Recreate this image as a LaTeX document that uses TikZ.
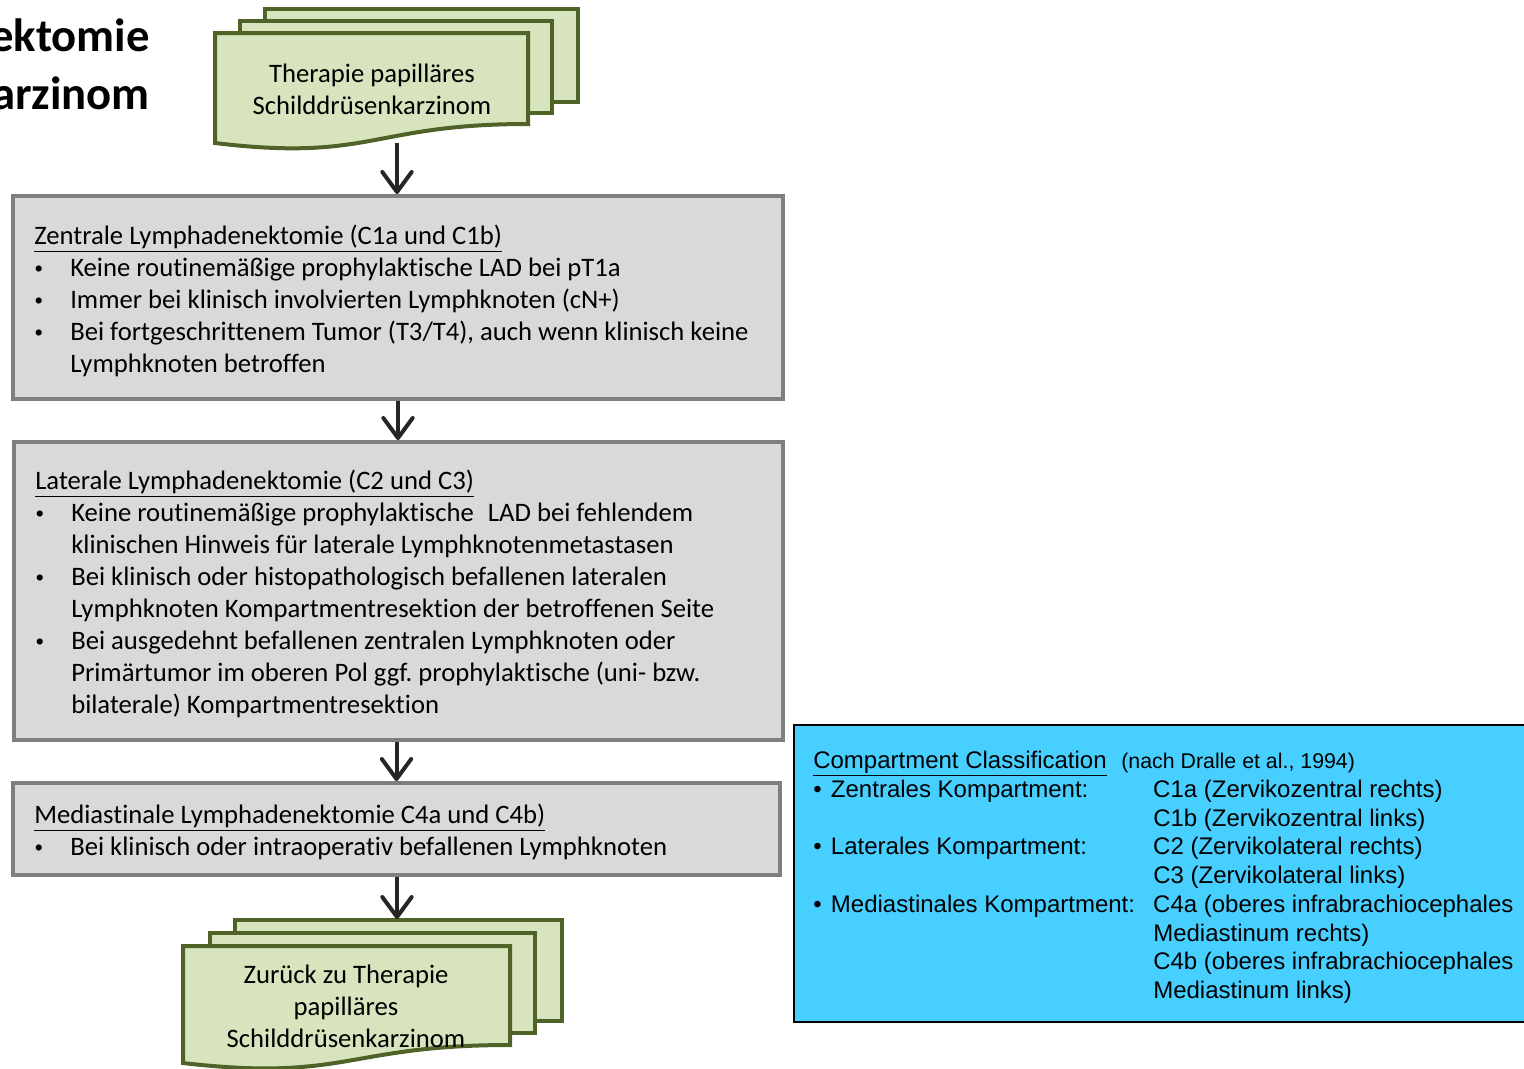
\documentclass[tikz,border=0pt]{standalone}
\usepackage{fontspec}
\setmainfont{Carlito}[RawFeature={-liga;-clig;-dlig;-calt}]
\newfontfamily\arialf{Liberation Sans}
\usetikzlibrary{arrows.meta}
\frenchspacing

\definecolor{docfill}{HTML}{D7E4BD}
\definecolor{docline}{HTML}{4F6228}
\definecolor{boxfill}{HTML}{D9D9D9}
\definecolor{boxline}{HTML}{7F7F7F}
\definecolor{arrowc}{HTML}{262626}
\definecolor{bluefill}{HTML}{47CFFF}

% bullet with hanging indent for the grey boxes
\newcommand\bul{\makebox[27pt][l]{\hspace{0.5pt}{\arialf\fontsize{17}{17}\selectfont•}}}
\newcommand\cont{\hspace*{27pt}}
% left column of the compartment table
\newcommand\lcol[1]{\makebox[255pt][l]{#1}}
\newcommand\cbul{•\hspace{7pt}}

\tikzset{
  docsheet/.style={draw=docline, fill=docfill, line width=3pt},
  doctext/.style={align=center, inner sep=0pt, font=\fontsize{20}{24}\selectfont},
  graybox/.style={draw=boxline, fill=boxfill, line width=3pt, inner sep=0pt},
  boxtext/.style={align=left, inner sep=0pt, anchor=north west, font=\fontsize{20}{24}\selectfont},
  flowarrow/.style={draw=arrowc, line width=3pt, -{Straight Barb[length=15pt,width=22pt,round]}},
  bluebox/.style={draw=black, fill=bluefill, line width=1.5pt, inner sep=0pt},
  bluetext/.style={align=left, inner sep=0pt, anchor=north west, font=\arialf\fontsize{18}{21.56}\selectfont},
}

\begin{document}
\begin{tikzpicture}[x=0.75pt, y=-0.75pt]
\useasboundingbox (0,0) rectangle (1524,1068);

% title, running off the left edge
\node[anchor=north east, inner sep=0pt, align=right, font=\bfseries\fontsize{35}{43.5}\selectfont] (title) at (150,18) {ektomie\\arzinom};

% start document stack
\draw[docsheet] (265,9) rectangle (578,102);
\draw[docsheet] (240,21) rectangle (552,113);
\draw[docsheet] (215,33) -- (528,33) -- (528,124) .. controls (371.5,124) and (371.5,162) .. (215,143) -- cycle;
\node[doctext] (start) at (372,89) {Therapie papilläres\\Schilddrüsenkarzinom};
\coordinate (startout) at (397,143);

% central lymph node dissection
\node[graybox, minimum width=577.5pt, minimum height=152.25pt] (box1) at (398,297.5) {};
\node[boxtext] (text1) at (34,225) {\underline{Zentrale Lymphadenektomie (C1a und C1b)}\\
\bul Keine routinemäßige prophylaktische LAD bei pT1a\\
\bul Immer bei klinisch involvierten Lymphknoten (cN+)\\
\bul Bei fortgeschrittenem Tumor (T3/T4), auch wenn klinisch keine\\
\cont Lymphknoten betroffen};

% lateral lymph node dissection
\node[graybox, minimum width=576.75pt, minimum height=223.5pt] (box2) at (398.5,591) {};
\node[boxtext] (text2) at (35,470) {\underline{Laterale Lymphadenektomie (C2 und C3)}\\
\bul Keine routinemäßige prophylaktische\hspace{0.3em} LAD bei fehlendem\\
\cont klinischen Hinweis für laterale Lymphknotenmetastasen\\
\bul Bei klinisch oder histopathologisch befallenen lateralen\\
\cont Lymphknoten Kompartmentresektion der betroffenen Seite\\
\bul Bei ausgedehnt befallenen zentralen Lymphknoten oder\\
\cont Primärtumor im oberen Pol ggf. prophylaktische (uni- bzw.\\
\cont bilaterale) Kompartmentresektion};

% mediastinal lymph node dissection
\node[graybox, minimum width=575.25pt, minimum height=69pt] (box3) at (396.5,829) {};
\node[boxtext] (text3) at (34,804) {\underline{Mediastinale Lymphadenektomie C4a und C4b)}\\
\bul Bei klinisch oder intraoperativ befallenen Lymphknoten};

% return document stack
\draw[docsheet] (235,920) rectangle (562,1021);
\draw[docsheet] (210,933) rectangle (535,1033);
\draw[docsheet] (183,946) -- (510,946) -- (510,1045) .. controls (346.5,1045) and (346.5,1082) .. (183,1063) -- cycle;
\node[doctext] (back) at (346,1006) {Zurück zu Therapie\\papilläres\\Schilddrüsenkarzinom};
\coordinate (backin) at (397,919);

% connectors
\draw[flowarrow] (startout) -- (startout |- box1.north);
\draw[flowarrow] (box1.south) -- (box1.south |- box2.north);
\draw[flowarrow] (box2.south -| box3.north) -- (box3.north);
\draw[flowarrow] (box3.south -| backin) -- (backin);

% compartment classification
\node[bluebox, minimum width=555pt, minimum height=222.75pt] (classbox) at (1164,873.5) {};
\node[bluetext] (classtext) at (813,751) {\underline{Compartment Classification}\hspace{11pt}{\fontsize{16}{21.56}\selectfont(nach Dralle et al., 1994)}\\
\lcol{\cbul Zentrales Kompartment:}C1a (Zervikozentral rechts)\\
\lcol{}C1b (Zervikozentral links)\\
\lcol{\cbul Laterales Kompartment:}C2 (Zervikolateral rechts)\\
\lcol{}C3 (Zervikolateral links)\\
\lcol{\cbul Mediastinales Kompartment:}C4a (oberes infrabrachiocephales\\
\lcol{}Mediastinum rechts)\\
\lcol{}C4b (oberes infrabrachiocephales\\
\lcol{}Mediastinum links)};
\end{tikzpicture}
\end{document}
